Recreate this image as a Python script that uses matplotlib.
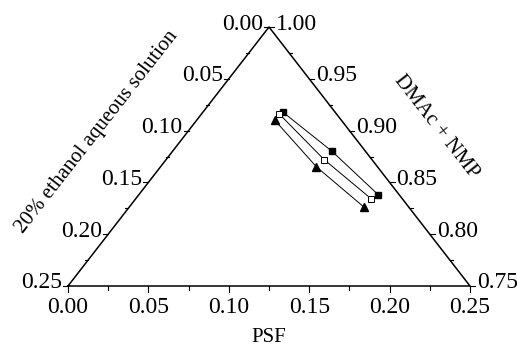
import numpy as np
import matplotlib
matplotlib.use("Agg")
import matplotlib.pyplot as plt

plt.rcParams['font.family'] = ['Liberation Serif', 'DejaVu Serif']

# composition of the three series (mass fractions)
psf_sq = [0.0495, 0.0992, 0.149]
solvent_sq = [0.918, 0.880, 0.838]      # DMAc + NMP, filled squares
psf_open = [0.0484, 0.0983, 0.1467]
solvent_open = [0.916, 0.872, 0.834]    # DMAc + NMP, open squares
psf_tri = [0.0486, 0.097, 0.1462]
solvent_tri = [0.910, 0.865, 0.826]     # DMAc + NMP, filled triangles

tick_vals = [0.00, 0.05, 0.10, 0.15, 0.20, 0.25]
minor_vals = [0.025, 0.075, 0.125, 0.175, 0.225]


def to_xy(a, c):
    # a = PSF, c = DMAc+NMP ; triangle corners (0,0) (1,0) (0.5,1)
    a = np.asarray(a)
    c = np.asarray(c)
    t = (c - 0.75) / 0.25
    return a / 0.25 + 0.5 * t, t


fig = plt.figure(figsize=(5.17, 3.51), dpi=100)
ax = fig.add_axes([68 / 517, 65 / 351, 402 / 517, 259 / 351])
ax.set_xlim(0, 1)
ax.set_ylim(0, 1)
ax.axis('off')

# frame
ax.plot([0, 1, 0.5, 0], [0, 0, 1, 0], color='black', lw=1.1, clip_on=False)

px = 1 / 402.0
py = 1 / 259.0
fs = 17
fs_title = 15

# bottom axis (PSF)
for v in tick_vals:
    x, y = to_xy(v, 0.75)
    ax.plot([x, x], [0, -6 * py], color='black', lw=0.8, clip_on=False)
    ax.text(x, -11 * py, f"{v:.2f}", ha='center', va='top', fontsize=fs)
for v in minor_vals:
    x, y = to_xy(v, 0.75)
    ax.plot([x, x], [0, -4 * py], color='black', lw=0.8, clip_on=False)

# left axis (ethanol solution), a = 0
for v in tick_vals:
    x, y = to_xy(0, 1 - v)
    ax.plot([x, x - 5 * px], [y, y], color='black', lw=0.8, clip_on=False)
    ax.text(x - 6 * px, y + 3 * py, f"{v:.2f}", ha='right', va='center', fontsize=fs)
for v in minor_vals:
    x, y = to_xy(0, 1 - v)
    ax.plot([x, x - 3 * px], [y, y], color='black', lw=0.8, clip_on=False)

# right axis (DMAc + NMP), ethanol = 0
for v in tick_vals:
    c = 1 - v
    x, y = to_xy(v, c)
    ax.plot([x, x + 5 * px], [y, y], color='black', lw=0.8, clip_on=False)
    ax.text(x + 7 * px, y + 3 * py, f"{c:.2f}", ha='left', va='center', fontsize=fs)
for v in minor_vals:
    x, y = to_xy(v, 1 - v)
    ax.plot([x, x + 3 * px], [y, y], color='black', lw=0.8, clip_on=False)

# axis titles
ax.text(0.5, -51 * py, "PSF", ha='center', va='center', fontsize=fs_title)
ax.text(0.072, 0.595, "20% ethanol aqueous solution", ha='center', va='center',
        rotation=52, rotation_mode='anchor', fontsize=fs_title)
ax.text(0.915, 0.614, "DMAc + NMP", ha='center', va='center',
        rotation=-52, rotation_mode='anchor', fontsize=fs_title)

# data
x, y = to_xy(psf_sq, solvent_sq)
ax.plot(x, y, color='black', lw=0.7, marker='s', ms=5, mfc='black', clip_on=False)
x, y = to_xy(psf_open, solvent_open)
ax.plot(x, y, color='black', lw=0.7, marker='s', ms=4.5, mfc='white', mew=0.7, clip_on=False)
x, y = to_xy(psf_tri, solvent_tri)
ax.plot(x, y, color='black', lw=0.7, marker='^', ms=6, mfc='black', clip_on=False)

fig.savefig("out.png", dpi=100)
